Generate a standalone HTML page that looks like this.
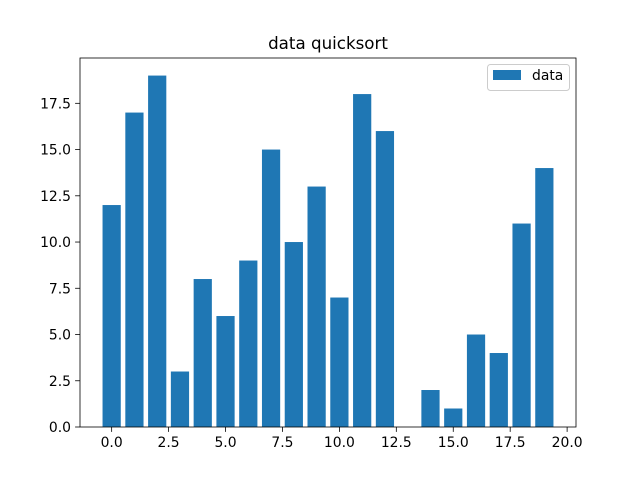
<!DOCTYPE html>
<html><head><meta charset="utf-8"><style>
body{margin:0;background:#fff;}
svg{display:block;font-family:"DejaVu Sans","Liberation Sans",sans-serif;}
</style></head><body>
<svg id="chart" width="640" height="480">
<rect width="640" height="480" fill="#fff"/>
<text x="328" y="49" font-size="16.7" text-anchor="middle">data quicksort</text>
<g id="bars"></g>
<g id="xticks"></g>
<g id="yticks"></g>
<rect x="80" y="58" width="496" height="369" fill="none" stroke="#000" stroke-width="0.8"/>
<g>
<rect x="487.5" y="64.5" width="82" height="26" rx="3" fill="#fff" fill-opacity="0.8" stroke="#ccc" stroke-width="1"/>
<rect x="493" y="70" width="28" height="10" fill="#1f77b4"/>
<text x="532" y="80" font-size="13.9">data</text>
</g>
</svg>
<script>
const categories=[0,1,2,3,4,5,6,7,8,9,10,11,12,13,14,15,16,17,18,19];
const values=[12,17,19,3,8,6,9,15,10,13,7,18,16,0,2,1,5,4,11,14];
const xTickLabels=["0.0","2.5","5.0","7.5","10.0","12.5","15.0","17.5","20.0"];
const yTickLabels=["0.0","2.5","5.0","7.5","10.0","12.5","15.0","17.5"];
const NS="http://www.w3.org/2000/svg";
const X0=80,X1=576,Y0=427,Y1=58;
const xmin=-1.39,xmax=20.39,ymin=0,ymax=19.95;
const sx=v=>X0+(v-xmin)/(xmax-xmin)*(X1-X0);
const sy=v=>Y0-(v-ymin)/(ymax-ymin)*(Y0-Y1);
const bars=document.getElementById('bars');
categories.forEach((c,i)=>{
 const r=document.createElementNS(NS,'rect');
 const v=values[i];
 r.setAttribute('x',sx(c-0.4));r.setAttribute('width',sx(c+0.4)-sx(c-0.4));
 r.setAttribute('y',Math.min(sy(v),sy(0)));r.setAttribute('height',Math.abs(sy(0)-sy(v)));
 r.setAttribute('fill','#1f77b4');
 
 
 bars.appendChild(r);
});
const xt=document.getElementById('xticks');
xTickLabels.forEach(l=>{
 const x=sx(parseFloat(l));
 const ln=document.createElementNS(NS,'line');
 ln.setAttribute('x1',x);ln.setAttribute('x2',x);ln.setAttribute('y1',Y0);ln.setAttribute('y2',Y0+4.9);ln.setAttribute('stroke','#000');ln.setAttribute('stroke-width','0.8');
 
 
 xt.appendChild(ln);
 const t=document.createElementNS(NS,'text');
 t.setAttribute('x',x);t.setAttribute('y',Y0+20);t.setAttribute('font-size','13.9');t.setAttribute('text-anchor','middle');t.textContent=l;
 
 
 xt.appendChild(t);
});
const yt=document.getElementById('yticks');
yTickLabels.forEach(l=>{
 const y=sy(parseFloat(l));
 const ln=document.createElementNS(NS,'line');
 ln.setAttribute('x1',X0-4.9);ln.setAttribute('x2',X0);ln.setAttribute('y1',y);ln.setAttribute('y2',y);ln.setAttribute('stroke','#000');ln.setAttribute('stroke-width','0.8');
 
 
 yt.appendChild(ln);
 const t=document.createElementNS(NS,'text');
 t.setAttribute('x',X0-9);t.setAttribute('y',y+5);t.setAttribute('font-size','13.9');t.setAttribute('text-anchor','end');t.textContent=l;
 
 
 yt.appendChild(t);
});
</script>
</body></html>
